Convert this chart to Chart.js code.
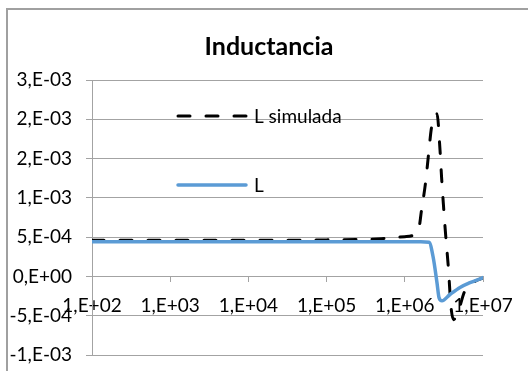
<!DOCTYPE html>
<html><head><meta charset="utf-8">
<script src="https://cdn.jsdelivr.net/npm/chart.js@4/dist/chart.umd.min.js"></script>
<style>html,body{margin:0;padding:0;background:#fff;overflow:hidden}</style>
</head><body>
<canvas id="c" width="528" height="371"></canvas>
<script>
const chartTitle = 'Inductancia';
const seriesNames = ['L simulada', 'L'];
// L simulada (dashed black)
const simFreq = [1e2, 1e3, 1e4, 1e5, 5e5, 1.0e6, 1.48e6, 1.64e6, 1.84e6, 2.01e6, 2.20e6, 2.58e6, 2.82e6, 2.95e6, 3.12e6, 3.31e6, 3.62e6, 3.89e6, 4.2e6, 4.79e6, 5.89e6, 7.67e6, 1e7];
const simL = [4.6e-4, 4.6e-4, 4.6e-4, 4.65e-4, 4.8e-4, 5.06e-4, 5.7e-4, 8.5e-4, 1.19e-3, 1.55e-3, 1.9e-3, 2.07e-3, 1.61e-3, 1.27e-3, 9.1e-4, 5.6e-4, 9e-5, -3.8e-4, -5.5e-4, -4.5e-4, -1.8e-4, -7e-5, -2e-5];
// L (blue)
const measFreq = [1e2, 1e3, 1e4, 1e5, 1e6, 1.6e6, 2.04e6, 2.3e6, 2.58e6, 2.74e6, 2.99e6, 3.78e6, 5.08e6, 6.82e6, 1e7];
const measL = [4.4e-4, 4.4e-4, 4.4e-4, 4.4e-4, 4.4e-4, 4.4e-4, 4.35e-4, 2.5e-4, -8e-5, -2.7e-4, -3.1e-4, -2.3e-4, -1.4e-4, -8e-5, -1.5e-5];
const xTickValues = [1e2, 1e3, 1e4, 1e5, 1e6, 1e7];
const yTickValues = [-1e-3, -5e-4, 0, 5e-4, 1e-3, 1.5e-3, 2e-3, 2.5e-3];

function sciLabel(v) {
  if (Math.abs(v) < 1e-15) return '0,E+00';
  const sign = v < 0 ? '-' : '';
  const a = Math.abs(v);
  let e = Math.floor(Math.log10(a) + 1e-9);
  let m = Math.round(a / Math.pow(10, e) + 1e-9);
  if (m >= 10) { m = 1; e += 1; }
  const es = (e < 0 ? '-' : '+') + String(Math.abs(e)).padStart(2, '0');
  return sign + m + ',E' + es;
}

const FONT = 'Lato';
const GRID = '#a3a3a3';

const frame = {
  id: 'frame',
  beforeDraw(chart) {
    const ctx = chart.ctx;
    ctx.save();
    ctx.strokeStyle = '#a0a0a0';
    ctx.lineWidth = 2;
    ctx.beginPath();
    ctx.moveTo(7, 380);
    ctx.lineTo(7, 9);
    ctx.lineTo(540, 9);
    ctx.stroke();
    ctx.restore();
  }
};

const titleDraw = {
  id: 'titleDraw',
  afterDraw(chart) {
    const ctx = chart.ctx;
    ctx.save();
    ctx.fillStyle = '#000';
    ctx.font = 'bold 25px ' + FONT;
    ctx.textAlign = 'center';
    ctx.textBaseline = 'middle';
    ctx.fillText(chartTitle, 269, 47);
    ctx.restore();
  }
};

const innerLegend = {
  id: 'innerLegend',
  afterDraw(chart) {
    const ctx = chart.ctx;
    const rows = [116, 185];
    ctx.save();
    chart.data.datasets.forEach((ds, i) => {
      const y = rows[i];
      ctx.strokeStyle = ds.borderColor;
      ctx.lineWidth = ds.borderWidth;
      ctx.lineCap = ds.borderCapStyle || 'butt';
      ctx.setLineDash(ds.borderDash || []);
      ctx.beginPath();
      ctx.moveTo(178, y);
      ctx.lineTo(246, y);
      ctx.stroke();
      ctx.setLineDash([]);
      ctx.fillStyle = '#000';
      ctx.font = '19px ' + FONT;
      ctx.textBaseline = 'middle';
      ctx.textAlign = 'left';
      ctx.fillText(ds.label, 254, y + 1);
    });
    ctx.restore();
  }
};

new Chart(document.getElementById('c'), {
  type: 'line',
  data: {
    datasets: [
      {
        label: seriesNames[0],
        data: simFreq.map((f, i) => ({x: f, y: simL[i]})),
        borderColor: '#000000',
        borderWidth: 3,
        borderDash: [12, 16],
        borderCapStyle: 'round',
        pointRadius: 0,
        cubicInterpolationMode: 'monotone',
        fill: false,
        order: 2
      },
      {
        label: seriesNames[1],
        data: measFreq.map((f, i) => ({x: f, y: measL[i]})),
        borderColor: '#5b9bd5',
        borderWidth: 3.5,
        borderCapStyle: 'round',
        pointRadius: 0,
        cubicInterpolationMode: 'monotone',
        fill: false,
        order: 1
      }
    ]
  },
  options: {
    responsive: false,
    animation: false,
    devicePixelRatio: 1,
    layout: { padding: { left: 0, right: 45, top: 80, bottom: 16 } },
    plugins: {
      legend: { display: false },
      tooltip: { enabled: false },
      title: { display: false }
    },
    scales: {
      x: {
        type: 'logarithmic',
        min: 1e2,
        max: 1e7,
        position: { y: 0 },
        afterBuildTicks(scale) { scale.ticks = xTickValues.map(v => ({ value: v, major: true })); },
        afterFit(scale) { scale.height = 0; },
        grid: { drawOnChartArea: false, drawTicks: true, tickLength: 5, color: GRID, tickColor: GRID },
        border: { display: true, color: GRID, width: 1 },
        ticks: {
          autoSkip: false, maxRotation: 0, padding: 13, color: '#000',
          font: { family: FONT, size: 19 },
          callback: (v) => sciLabel(v)
        }
      },
      y: {
        type: 'linear',
        min: -1e-3,
        max: 2.5e-3,
        afterBuildTicks(scale) { scale.ticks = yTickValues.map(v => ({ value: v })); },
        afterFit(scale) { scale.width = 92; scale.paddingTop = 0; scale.paddingBottom = 0; },
        grid: { color: GRID, tickLength: 6, tickColor: GRID },
        border: { display: true, color: GRID, width: 1 },
        ticks: {
          padding: 14, color: '#000',
          font: { family: FONT, size: 19 },
          callback: (v) => sciLabel(v)
        }
      }
    }
  },
  plugins: [frame, titleDraw, innerLegend]
});
</script>
</body></html>
